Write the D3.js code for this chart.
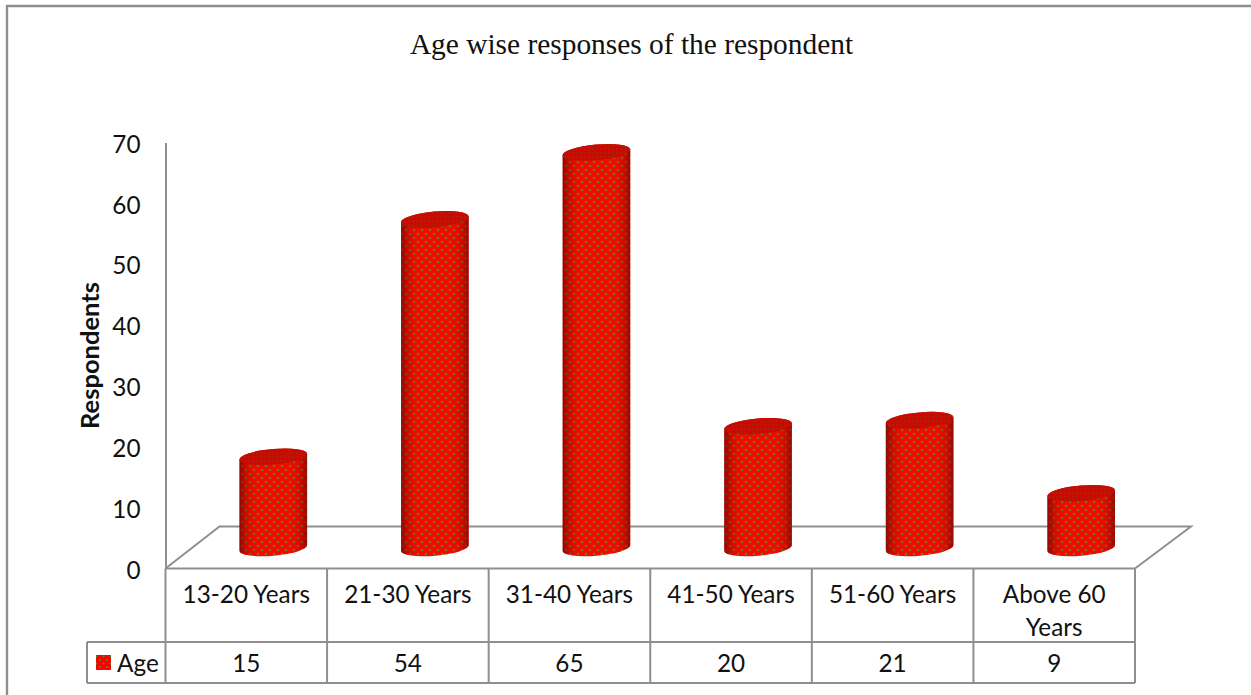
<!DOCTYPE html>
<html>
<head>
<meta charset="utf-8">
<script src="https://cdn.jsdelivr.net/npm/d3@7"></script>
<style>
  html, body { margin: 0; padding: 0; background: #fff; }
  svg { display: block; }
  .cat { font-family: Lato, sans-serif; font-size: 24.3px; fill: #111; }
</style>
</head>
<body>
<svg id="chart" width="1251" height="695"></svg>
<script>
const categories = ["13-20 Years", "21-30 Years", "31-40 Years", "41-50 Years", "51-60 Years", "Above 60 Years"];
const categoryLines = [["13-20 Years"], ["21-30 Years"], ["31-40 Years"], ["41-50 Years"], ["51-60 Years"], ["Above 60", "Years"]];
const ageValues = [15, 54, 65, 20, 21, 9];
const yTicks = [0, 10, 20, 30, 40, 50, 60, 70];
const seriesName = "Age";
const chartTitle = "Age wise responses of the respondent";
const yTitle = "Respondents";

const GRID = "#8f8f8f";
const svg = d3.select("#chart");
const defs = svg.append("defs");

// Dotted cylinder fill: red ground with staggered olive dots
const dots = defs.append("pattern").attr("id", "dots").attr("patternUnits", "userSpaceOnUse")
  .attr("width", 8).attr("height", 8);
dots.append("rect").attr("width", 8).attr("height", 8).attr("fill", "#ee0c00");
[[2, 2], [6, 6]].forEach(([cx, cy]) =>
  dots.append("circle").attr("cx", cx).attr("cy", cy).attr("r", 1.3).attr("fill", "#876a22"));

const capDots = defs.append("pattern").attr("id", "capDots").attr("patternUnits", "userSpaceOnUse")
  .attr("width", 4).attr("height", 4);
capDots.append("rect").attr("width", 4).attr("height", 4).attr("fill", "#c80a02");
capDots.append("circle").attr("cx", 1).attr("cy", 1).attr("r", 0.8).attr("fill", "#8e3a10");

// Legend key: bright red with green dots
const keyDots = defs.append("pattern").attr("id", "keyDots").attr("patternUnits", "userSpaceOnUse")
  .attr("width", 7).attr("height", 7);
keyDots.append("rect").attr("width", 7).attr("height", 7).attr("fill", "#ff0000");
keyDots.append("circle").attr("cx", 2).attr("cy", 2).attr("r", 1).attr("fill", "#22a040");
keyDots.append("circle").attr("cx", 5.5).attr("cy", 5.5).attr("r", 1).attr("fill", "#22a040");

// Horizontal shading across the cylinder body
const shade = defs.append("linearGradient").attr("id", "shade");
[[0, "#500000", 0.6], [0.1, "#700000", 0.25], [0.3, "#ff2000", 0], [0.7, "#ff2000", 0], [0.9, "#700000", 0.22], [1, "#500000", 0.55]]
  .forEach(([o, c, a]) => shade.append("stop").attr("offset", o).attr("stop-color", c).attr("stop-opacity", a));

// Outer frame
svg.append("path").attr("d", "M7,695 V6 H1251").attr("fill", "none").attr("stroke", GRID).attr("stroke-width", 2.4);

// Scales: the front of the floor carries the axis; columns stand half a depth further back
const x = d3.scaleBand().domain(categories).range([165.5, 1135]);
const y = d3.scaleLinear().domain([0, 70]).range([568.5, 142.5]);
const depth = { dx: 54, dy: -42 };
const barY = d3.scaleLinear().domain([0, 70]).range([548, 122]);
const barCenter = c => x(c) + x.bandwidth() / 2 + 27;

// Floor outline
const left = x.range()[0], right = x.range()[1], floorY = y(0);
svg.append("path")
  .attr("d", `M${left},${floorY} L${left + depth.dx},${floorY + depth.dy} H${right + depth.dx + 2} L${right},${floorY}`)
  .attr("fill", "none").attr("stroke", GRID).attr("stroke-width", 2);

// Value axis
const yAxis = d3.axisLeft(y).tickValues(yTicks).tickSize(0).tickPadding(25);
const axisG = svg.append("g").attr("transform", `translate(${left},0)`).call(yAxis);
axisG.select(".domain").attr("stroke", GRID).attr("stroke-width", 2);
axisG.selectAll("text").attr("class", "cat").attr("font-family", null).attr("font-size", null)
  .attr("dy", "0.4em");

// Axis title
svg.append("text").attr("transform", "translate(99,355.5) rotate(-90)").attr("text-anchor", "middle")
  .attr("font-family", "Lato, sans-serif").attr("font-weight", 700).attr("font-size", 25.5).attr("fill", "#111").text(yTitle);

// Chart title
svg.append("text").attr("x", 631.5).attr("y", 54).attr("text-anchor", "middle")
  .attr("font-family", "'Liberation Serif', serif").attr("font-size", 29.4).attr("fill", "#111").text(chartTitle);

// Cylinders, tilted slightly so the ellipses rise to the right
const rx = 33.8, ry = 7.8, tilt = -5;
const arc = (x1, y1, sweep) => `A${rx},${ry} ${tilt} 0 ${sweep} ${x1},${y1}`;
const rise = 2.9;
const cyl = svg.append("g").selectAll("g").data(categories.map((c, i) => ({ c, v: ageValues[i] }))).join("g");
const bodyPath = d => {
  const cx = barCenter(d.c), t = barY(d.v), b = barY(0);
  return `M${cx - rx},${t + rise} L${cx - rx},${b + rise} ${arc(cx + rx, b - rise, 0)} L${cx + rx},${t - rise} ${arc(cx - rx, t + rise, 0)} Z`;
};
const capPath = d => {
  const cx = barCenter(d.c), t = barY(d.v);
  return `M${cx - rx},${t + rise} ${arc(cx + rx, t - rise, 1)} ${arc(cx - rx, t + rise, 1)} Z`;
};
cyl.append("path").attr("d", bodyPath).attr("fill", "url(#dots)");
cyl.append("path").attr("d", bodyPath).attr("fill", "url(#shade)");
cyl.append("path").attr("d", capPath).attr("fill", "url(#capDots)");

// Data table under the plot
const rowTop = floorY, rowMid = 642, rowBottom = 683, legendLeft = 87;
const table = svg.append("g").attr("fill", "none").attr("stroke", GRID).attr("stroke-width", 2);
table.append("path").attr("d", `M${left},${rowTop} H${right} M${legendLeft},${rowMid} H${right} M${legendLeft},${rowBottom} H${right} M${legendLeft},${rowMid} V${rowBottom}`);
categories.forEach(c => table.append("line").attr("x1", x(c)).attr("x2", x(c)).attr("y1", rowTop).attr("y2", rowBottom));
table.append("line").attr("x1", right).attr("x2", right).attr("y1", rowTop).attr("y2", rowBottom);

const labels = svg.append("g").attr("text-anchor", "middle");
categories.forEach((c, i) => {
  const lines = categoryLines[i];
  const cx = x(c) + x.bandwidth() / 2;
  lines.forEach((line, j) => labels.append("text").attr("class", "cat").attr("x", cx)
    .attr("y", 603 + j * 33).text(line));
  labels.append("text").attr("class", "cat").attr("x", cx).attr("y", 672).text(ageValues[i]);
});

// Legend entry in the table's first column
svg.append("rect").attr("x", 96).attr("y", 655).attr("width", 15).attr("height", 15).attr("fill", "url(#keyDots)");
svg.append("text").attr("class", "cat").attr("x", 117).attr("y", 672).text(seriesName);
</script>
</body>
</html>
